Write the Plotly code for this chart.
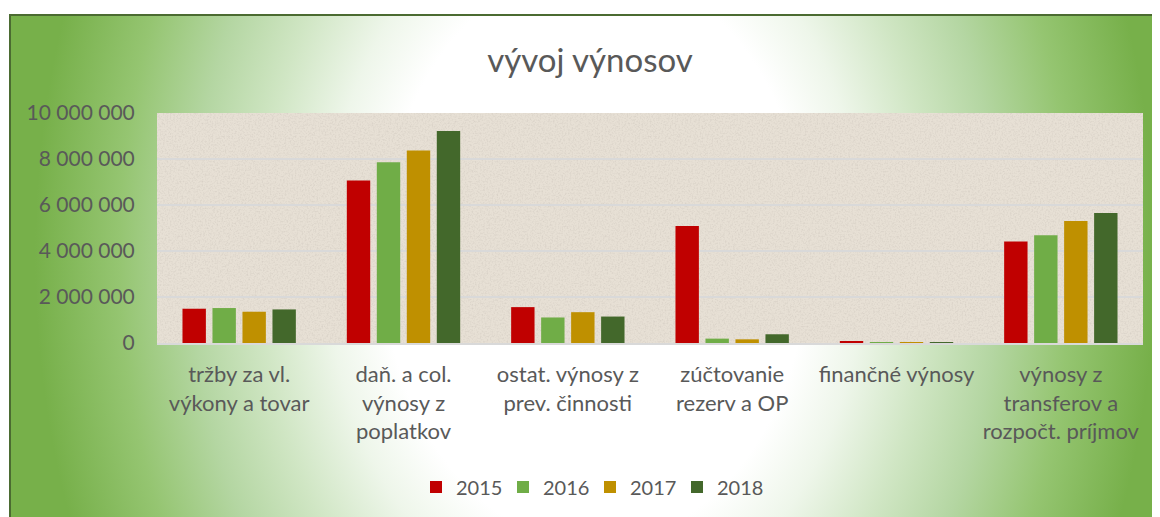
import base64
import plotly.graph_objects as go

categories = [
    "tržby za vl.<br>výkony a tovar",
    "daň. a col.<br>výnosy z<br>poplatkov",
    "ostat. výnosy z<br>prev. činnosti",
    "zúčtovanie<br>rezerv a OP",
    "finančné výnosy",
    "výnosy z<br>transferov a<br>rozpočt. príjmov",
]
years = ["2015", "2016", "2017", "2018"]
v2015 = [1490000, 7060000, 1560000, 5090000, 50000, 4410000]
v2016 = [1520000, 7860000, 1110000, 190000, 10000, 4680000]
v2017 = [1360000, 8370000, 1340000, 160000, 10000, 5300000]
v2018 = [1460000, 9220000, 1150000, 380000, 30000, 5650000]
colors = ["#c00000", "#70ad47", "#bf9000", "#43682b"]
y_ticks = [0, 2000000, 4000000, 6000000, 8000000, 10000000]

OFF = 8  # page body margin
W, H = 1160 - OFF, 517 - OFF
L, R, T, B = 157 - OFF, 17, 113 - OFF, 174
pw, ph = W - L - R, H - T - B

def fx(px):  # page x -> paper fraction
    return (px - OFF - L) / pw

def fy(py):  # page y -> paper fraction
    return (H - B - (py - OFF)) / ph

# background gradient (chart area fill), page coords
gx0, gy0, gx1, gy1 = 9, 14, 1175, 535
gw, gh = gx1 - gx0, gy1 - gy0
cx, cy, rx, ry = 595 - gx0, 255 - gy0, 560, 760
grad_svg = f"""<svg xmlns='http://www.w3.org/2000/svg' width='{gw}' height='{gh}' viewBox='0 0 {gw} {gh}' preserveAspectRatio='none'>
<defs><radialGradient id='g' gradientUnits='userSpaceOnUse' cx='{cx}' cy='{cy}' r='{rx}'
 gradientTransform='translate({cx} {cy}) scale(1 {ry/rx:.4f}) translate({-cx} {-cy})'>
<stop offset='0' stop-color='#ffffff'/>
<stop offset='0.38' stop-color='#ffffff'/>
<stop offset='0.48' stop-color='#eef6ea'/>
<stop offset='0.6' stop-color='#d0e6c4'/>
<stop offset='0.72' stop-color='#b4d6a2'/>
<stop offset='0.85' stop-color='#95c571'/>
<stop offset='1' stop-color='#77b04a'/>
</radialGradient></defs>
<rect x='0' y='0' width='{gw}' height='{gh}' fill='url(#g)'/>
</svg>"""
grad_uri = "data:image/svg+xml;base64," + base64.b64encode(grad_svg.encode()).decode()

tex_svg = f"""<svg xmlns='http://www.w3.org/2000/svg' width='{pw}' height='{ph}' viewBox='0 0 {pw} {ph}' preserveAspectRatio='none'>
<defs><filter id='n' x='0' y='0' width='100%' height='100%'>
<feTurbulence type='fractalNoise' baseFrequency='0.6' numOctaves='2' seed='4'/>
<feColorMatrix type='matrix' values='0 0 0 0 0.55  0 0 0 0 0.5  0 0 0 0 0.45  0 0 0 -2.2 1.25'/>
</filter></defs>
<rect x='0' y='0' width='{pw}' height='{ph}' fill='#e7e0d5'/>
<rect x='0' y='0' width='{pw}' height='{ph}' filter='url(#n)' opacity='0.4'/>
</svg>"""
tex_uri = "data:image/svg+xml;base64," + base64.b64encode(tex_svg.encode()).decode()

fig = go.Figure()
for name, vals, c in zip(years, [v2015, v2016, v2017, v2018], colors):
    fig.add_trace(go.Bar(name=name, x=categories, y=vals, marker=dict(color=c, line=dict(width=0))))

font_family = "Lato, 'Open Sans', sans-serif"
fig.update_layout(
    width=W, height=H,
    autosize=False,
    margin=dict(l=L, r=R, t=T, b=B, autoexpand=False),
    paper_bgcolor="#ffffff",
    plot_bgcolor="rgba(0,0,0,0)",
    barmode="group",
    bargap=0.27,
    bargroupgap=0.22,
    separators=", ",
    font=dict(family=font_family, color="#595959"),
    title=dict(text="vývoj výnosov", x=fx(590), xanchor="center", xref="paper",
               y=1 - (60 - OFF) / H, yanchor="middle", yref="container",
               font=dict(size=33, color="#595959")),
    xaxis=dict(showgrid=False, showline=True, linecolor="#d9d9d9", linewidth=1.5,
               ticks="outside", ticklen=11, tickcolor="rgba(0,0,0,0)",
               tickfont=dict(size=22, color="#595959"), tickangle=0),
    yaxis=dict(range=[0, 10000000], tickvals=y_ticks, tickformat=",d",
               showgrid=True, gridcolor="#d9d9d9", gridwidth=1.5,
               zeroline=False, showline=False,
               ticks="outside", ticklen=17, tickcolor="rgba(0,0,0,0)",
               tickfont=dict(size=21, color="#595959")),
    legend=dict(orientation="h", x=fx(590), xanchor="center",
                y=fy(487), yanchor="middle",
                font=dict(size=20, color="#595959"), bgcolor="rgba(0,0,0,0)",
                itemwidth=30, entrywidth=42, entrywidthmode="pixels", traceorder="normal"),
    images=[
        dict(source=grad_uri, xref="paper", yref="paper", x=fx(gx0), y=fy(gy0),
             sizex=gw / pw, sizey=gh / ph, sizing="stretch", xanchor="left", yanchor="top",
             layer="below"),
        dict(source=tex_uri, xref="paper", yref="paper", x=0, y=1,
             sizex=1, sizey=1, sizing="stretch", xanchor="left", yanchor="top",
             layer="below"),
    ],
    shapes=[
        dict(type="rect", xref="paper", yref="paper", x0=fx(gx0 + 1), y0=fy(gy0 + 1),
             x1=fx(gx1), y1=fy(gy1), line=dict(color="#4b6b31", width=2),
             fillcolor="rgba(0,0,0,0)", layer="above"),
    ],
)

fig.write_html("out.html")
